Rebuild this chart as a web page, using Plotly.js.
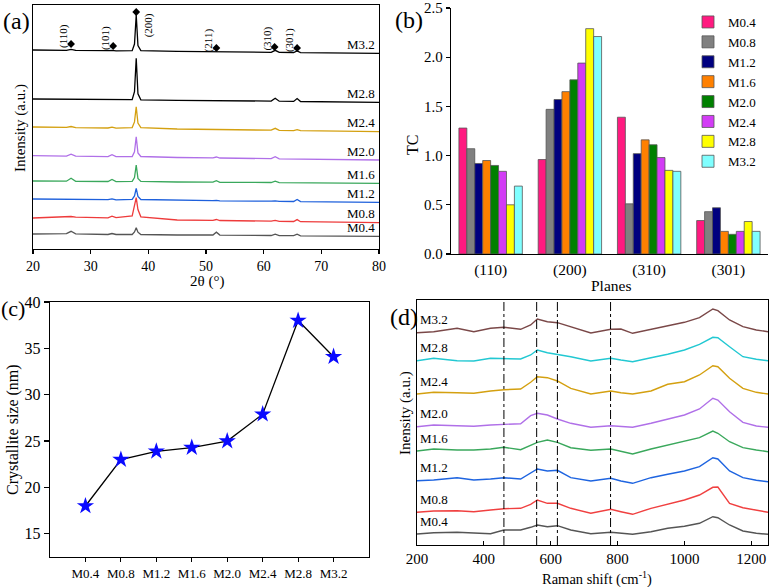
<!DOCTYPE html>
<html>
<head>
<meta charset="utf-8">
<script src="https://cdn.plot.ly/plotly-3.0.1.min.js"></script>
<style>html,body{margin:0;padding:0;background:#fff;}#chart{width:771px;height:587px;}</style>
</head>
<body>
<div id="chart"></div>
<script>
// ---------- DATA ----------
const samples = ['M0.4','M0.8','M1.2','M1.6','M2.0','M2.4','M2.8','M3.2'];

// (a) XRD patterns (2θ in degrees, offset intensity in a.u.)
const xrdTheta = [20,25.8,26.6,27.4,33,33.7,34.4,37.2,37.6,37.9,38.2,38.7,45,51.2,51.8,52.4,61.3,62.0,62.7,65.2,65.8,66.4,80];
const xrdM04 = [16,16.3,18.7,16.2,15.5,16.5,15.5,15.5,18.1,22.3,17.8,15.5,15,15,17.8,14.9,14.5,15.9,14.4,14.3,15.8,14.2,13.7];
const xrdM08 = [32,33,33.5,32.8,32.2,33.9,32.3,34,43.6,52.3,40.4,33.2,30,29.6,30.5,29.5,28.8,29.7,28.6,28.5,30.4,28.3,27.3];
const xrdM12 = [51,50.7,51.1,50.6,50.3,51.2,50.2,50.6,54.1,61.7,53.5,50.5,49.6,49.3,49.6,49.2,48.8,49.2,48.7,48.5,50.5,48.4,47.7];
const xrdM16 = [69,68.8,71.7,68.7,68.5,70.5,68.4,68.6,72.5,85,71.6,68.6,68,67.8,69.3,67.7,67.5,68.9,67.4,67.2,67.7,67.2,66.7];
const xrdM20 = [94.3,93.9,95.8,93.8,93.4,95.3,93.3,93.5,98.1,113.3,97.1,93.5,92.5,92.1,93,92,91.3,93.3,91.2,91,91.5,91,90];
const xrdM24 = [123,122.6,123.5,122.4,122,122.9,121.9,122.4,128.1,143.3,127,122.3,121,120.5,121,120.5,119.8,121.7,119.6,119.4,120.4,119.3,118.3];
const xrdM28 = [151,150.7,150.8,150.6,150.3,150.5,150.2,150.3,158.3,191.7,156.2,150.2,149.6,149.3,149.6,149.2,148.9,151.7,148.8,148.6,151.5,148.5,147.7];
const xrdM32 = [200,199.7,200.6,199.6,199.3,199.7,199.2,199.3,206,235,204.4,199.4,198.6,198.2,198.5,198.1,197.7,199.7,197.6,197.5,199,197.4,196.7];
const hklLabels = ['(110)','(101)','(200)','(211)','(310)','(301)'];
const hklPos = [26.6,33.9,37.9,51.8,61.9,65.8];
const hklMarkY = [206,204,238,202,203,202];

// (b) texture coefficient
const planes = ['(110)','(200)','(310)','(301)'];
const tcM04 = [1.28,0.96,1.39,0.34];
const tcM08 = [1.07,1.47,0.51,0.43];
const tcM12 = [0.92,1.57,1.02,0.47];
const tcM16 = [0.95,1.65,1.16,0.23];
const tcM20 = [0.90,1.77,1.11,0.20];
const tcM24 = [0.84,1.94,0.98,0.23];
const tcM28 = [0.50,2.29,0.85,0.33];
const tcM32 = [0.69,2.21,0.84,0.23];

// (c) crystallite size (nm)
const crystSize = [18.0,23.0,23.9,24.3,25.0,27.9,38.0,34.1];

// (d) Raman spectra (cm-1, offset intensity)
const ramanShift = [200,250,320,370,420,460,510,540,560,590,620,660,720,780,810,845,900,950,1000,1045,1085,1100,1135,1175,1215,1250];
const ramanM04 = [11,12.3,12.7,11.7,11.3,15,15,17.7,20,18.3,19.3,15,11.3,12.7,12,10.7,13.3,16.7,18.7,21.7,28.3,27.3,20,14,11.7,10.7];
const ramanM08 = [32.7,34,34.3,33.3,35,36.3,36.7,40.7,45,41.7,41.7,36.7,31.7,35.7,33.3,30.7,36.7,40.7,45,50,57.7,58,41.7,37.3,35,32.7];
const ramanM12 = [64.3,65,67.3,65,66,67.3,66,71.7,76,74,74.7,67.3,64,66.7,64,61.7,67.3,70.7,74,78.3,87.3,86,74,67.3,64.7,63.3];
const ramanM16 = [94,96,95,95,96,97.7,95.3,100,102.7,105,102.7,97.3,94.7,96,94,91,96,100,103.3,107.3,114,111.7,103.3,97.3,95,93.3];
const ramanM20 = [118.3,120,119.3,118.7,120,120.7,121.3,129.3,131.7,130,126,121.7,117.7,119.3,118.3,117.7,121.7,126,130,136,146.7,145,133.3,122.7,119,117.7];
const ramanM24 = [151,152.7,152.3,151.7,154,155.3,156,162.7,168.3,167.3,164,156.7,151,154,152.3,151,154,160.7,163.3,170,179.3,178.3,166.7,156.7,152.7,151];
const ramanM28 = [184.3,186.7,184.3,184,186.7,186.7,186,190,195,192.3,190.7,188.3,184,186.7,185,183.3,187.3,190.7,195,200.7,207.7,207.3,198.3,188.3,185.7,184.3];
const ramanM32 = [212.3,213.3,216.7,213.3,216.7,217.7,215.7,220,226,223.3,222.3,218.3,212,215.7,216,211.7,215.7,219.3,222.7,227.3,236,234.3,225,218.3,215,213.3];
const ramanLines = [460,558,620,779];

// ---------- STYLE ----------
const W = 771, H = 587;
const FONT = 'Liberation Serif, Times New Roman, serif';
const hx = px => px / W;
const vy = py => 1 - py / H;
const xrdColors = ['#555555','#ee3b3b','#1e60dc','#3aa85c','#b070e8','#d4a010','#000000','#000000'];
const ramanColors = ['#555555','#f04040','#1e64e0','#3aa85c','#b070e8','#d4a010','#22c8d2','#7a4848'];
const barColors = ['#ff1a80','#808080','#00007f','#ff8000','#008000','#d23cf5','#ffff00','#80ffff'];

const xrdSeries = [xrdM04,xrdM08,xrdM12,xrdM16,xrdM20,xrdM24,xrdM28,xrdM32];
const tcSeries = [tcM04,tcM08,tcM12,tcM16,tcM20,tcM24,tcM28,tcM32];
const ramanSeries = [ramanM04,ramanM08,ramanM12,ramanM16,ramanM20,ramanM24,ramanM28,ramanM32];

const traces = [];
samples.forEach((s,i) => {
  traces.push({x: xrdTheta, y: xrdSeries[i], xaxis:'x', yaxis:'y', type:'scatter', mode:'lines',
    line:{color: xrdColors[i], width:1.3}, showlegend:false, hoverinfo:'skip'});
});
traces.push({x: hklPos, y: hklMarkY, xaxis:'x', yaxis:'y', type:'scatter', mode:'markers',
  marker:{symbol:'diamond', size:6, color:'#000'}, showlegend:false, hoverinfo:'skip'});
samples.forEach((s,i) => {
  traces.push({x: planes, y: tcSeries[i], xaxis:'x2', yaxis:'y2', type:'bar', name: s,
    marker:{color: barColors[i], line:{color:'#555', width:0.8}}});
});
traces.push({x: samples, y: crystSize, xaxis:'x3', yaxis:'y3', type:'scatter', mode:'lines+markers',
  line:{color:'#000', width:1.3}, marker:{symbol:'star', size:13, color:'#0a0aff'}, showlegend:false});
samples.forEach((s,i) => {
  traces.push({x: ramanShift, y: ramanSeries[i], xaxis:'x4', yaxis:'y4', type:'scatter', mode:'lines',
    line:{color: ramanColors[i], width:1.4}, showlegend:false, hoverinfo:'skip'});
});

const ax = {showgrid:false, zeroline:false, showline:true, linecolor:'#000', linewidth:1.3,
  tickcolor:'#000', tickwidth:1.2, ticklen:4, automargin:false};

const annotations = [];
const A = (text, px, py, size, extra) => annotations.push(Object.assign({
  text, x: hx(px), y: vy(py), xref:'paper', yref:'paper', showarrow:false,
  xanchor:'center', yanchor:'middle', font:{family:FONT, size, color:'#000'}}, extra||{}));

// panel labels
A('(a)', 16, 21, 24); A('(b)', 409, 20, 24); A('(c)', 13, 308, 22); A('(d)', 404, 317, 24);
// axis titles
A('2θ (°)', 207, 282, 15);
A('Intensity (a.u.)', 21, 128, 15, {textangle:-90});
A('TC', 413, 145, 16, {textangle:-90});
A('Planes', 611, 285, 15.5);
A('Crystallite size (nm)', 13, 430, 16, {textangle:-90});
A('Raman shift (cm<sup>-1</sup>)', 597, 578, 14.5);
A('Inensity (a.u.)', 405, 413, 15, {textangle:-90});

// sample labels in (a) and (d), attached to curves
samples.forEach((s,i) => {
  const ya = xrdSeries[i];
  annotations.push({text:s, x:79.7, y: ya[ya.length-1] + 9, xref:'x', yref:'y', showarrow:false,
    xanchor:'right', yanchor:'middle', font:{family:FONT, size:13, color:'#000'}});
  const yd = ramanSeries[i];
  annotations.push({text:s, x:204, y: yd[0] + 13, xref:'x4', yref:'y4', showarrow:false,
    xanchor:'left', yanchor:'middle', font:{family:FONT, size:13, color:'#000'}});
});
// hkl labels in (a)
hklLabels.forEach((t,i) => {
  const isMain = t === '(200)';
  annotations.push({text:t, x: hklPos[i] + (isMain ? 2.1 : -1.4), y: hklMarkY[i] + (isMain ? -13 : 8),
    xref:'x', yref:'y', showarrow:false, textangle:-90, xanchor:'center', yanchor:'middle',
    font:{family:FONT, size:11, color:'#000'}});
});

const shapes = ramanLines.map(v => ({type:'line', xref:'x4', yref:'y4 domain', x0:v, x1:v, y0:0, y1:1,
  line:{color:'#000', width:1, dash:'dashdot'}}));

const layout = {
  width: W, height: H, margin:{l:0,r:0,t:0,b:0},
  paper_bgcolor:'#fff', plot_bgcolor:'#fff',
  font:{family:FONT, size:14, color:'#000'},
  barmode:'group', bargap:0.2, bargroupgap:0,
  showlegend:true,
  legend:{x: hx(688), y: vy(7), xanchor:'left', yanchor:'top', bgcolor:'rgba(0,0,0,0)',
    font:{family:FONT, size:13, color:'#000'}, tracegroupgap:0, traceorder:'normal'},
  xaxis: Object.assign({}, ax, {domain:[hx(33),hx(379)], anchor:'y', range:[20,80], tick0:20, dtick:10,
    ticks:'outside', mirror:true, tickfont:{size:14}}),
  yaxis: Object.assign({}, ax, {domain:[vy(249),vy(5)], anchor:'x', range:[1,245], ticks:'', showticklabels:false, mirror:true}),
  xaxis2: Object.assign({}, ax, {domain:[hx(451),hx(768)], anchor:'y2', type:'category', range:[-0.5,3.5],
    ticks:'', tickfont:{size:15.5}, ticklabelstandoff:1}),
  yaxis2: Object.assign({}, ax, {domain:[vy(254),vy(8)], anchor:'x2', range:[0,2.5], dtick:0.5, tick0:0,
    tickformat:'.1f', ticks:'outside', tickfont:{size:15}}),
  xaxis3: Object.assign({}, ax, {domain:[hx(50),hx(369)], anchor:'y3', type:'category', range:[-1,8],
    ticks:'outside', mirror:true, tickfont:{size:13}}),
  yaxis3: Object.assign({}, ax, {domain:[vy(557),vy(302)], anchor:'x3', range:[12.5,40], dtick:5, tick0:0,
    ticks:'outside', ticklen:5, mirror:true, tickfont:{size:16}}),
  xaxis4: Object.assign({}, ax, {domain:[hx(417),hx(768)], anchor:'y4', range:[200,1250], tick0:200, dtick:200,
    ticks:'inside', mirror:true, tickfont:{size:15}}),
  yaxis4: Object.assign({}, ax, {domain:[vy(545),vy(300)], anchor:'x4', range:[0,245], ticks:'', showticklabels:false, mirror:true}),
  annotations, shapes
};

Plotly.newPlot('chart', traces, layout, {staticPlot:true, displayModeBar:false});
</script>
</body>
</html>
